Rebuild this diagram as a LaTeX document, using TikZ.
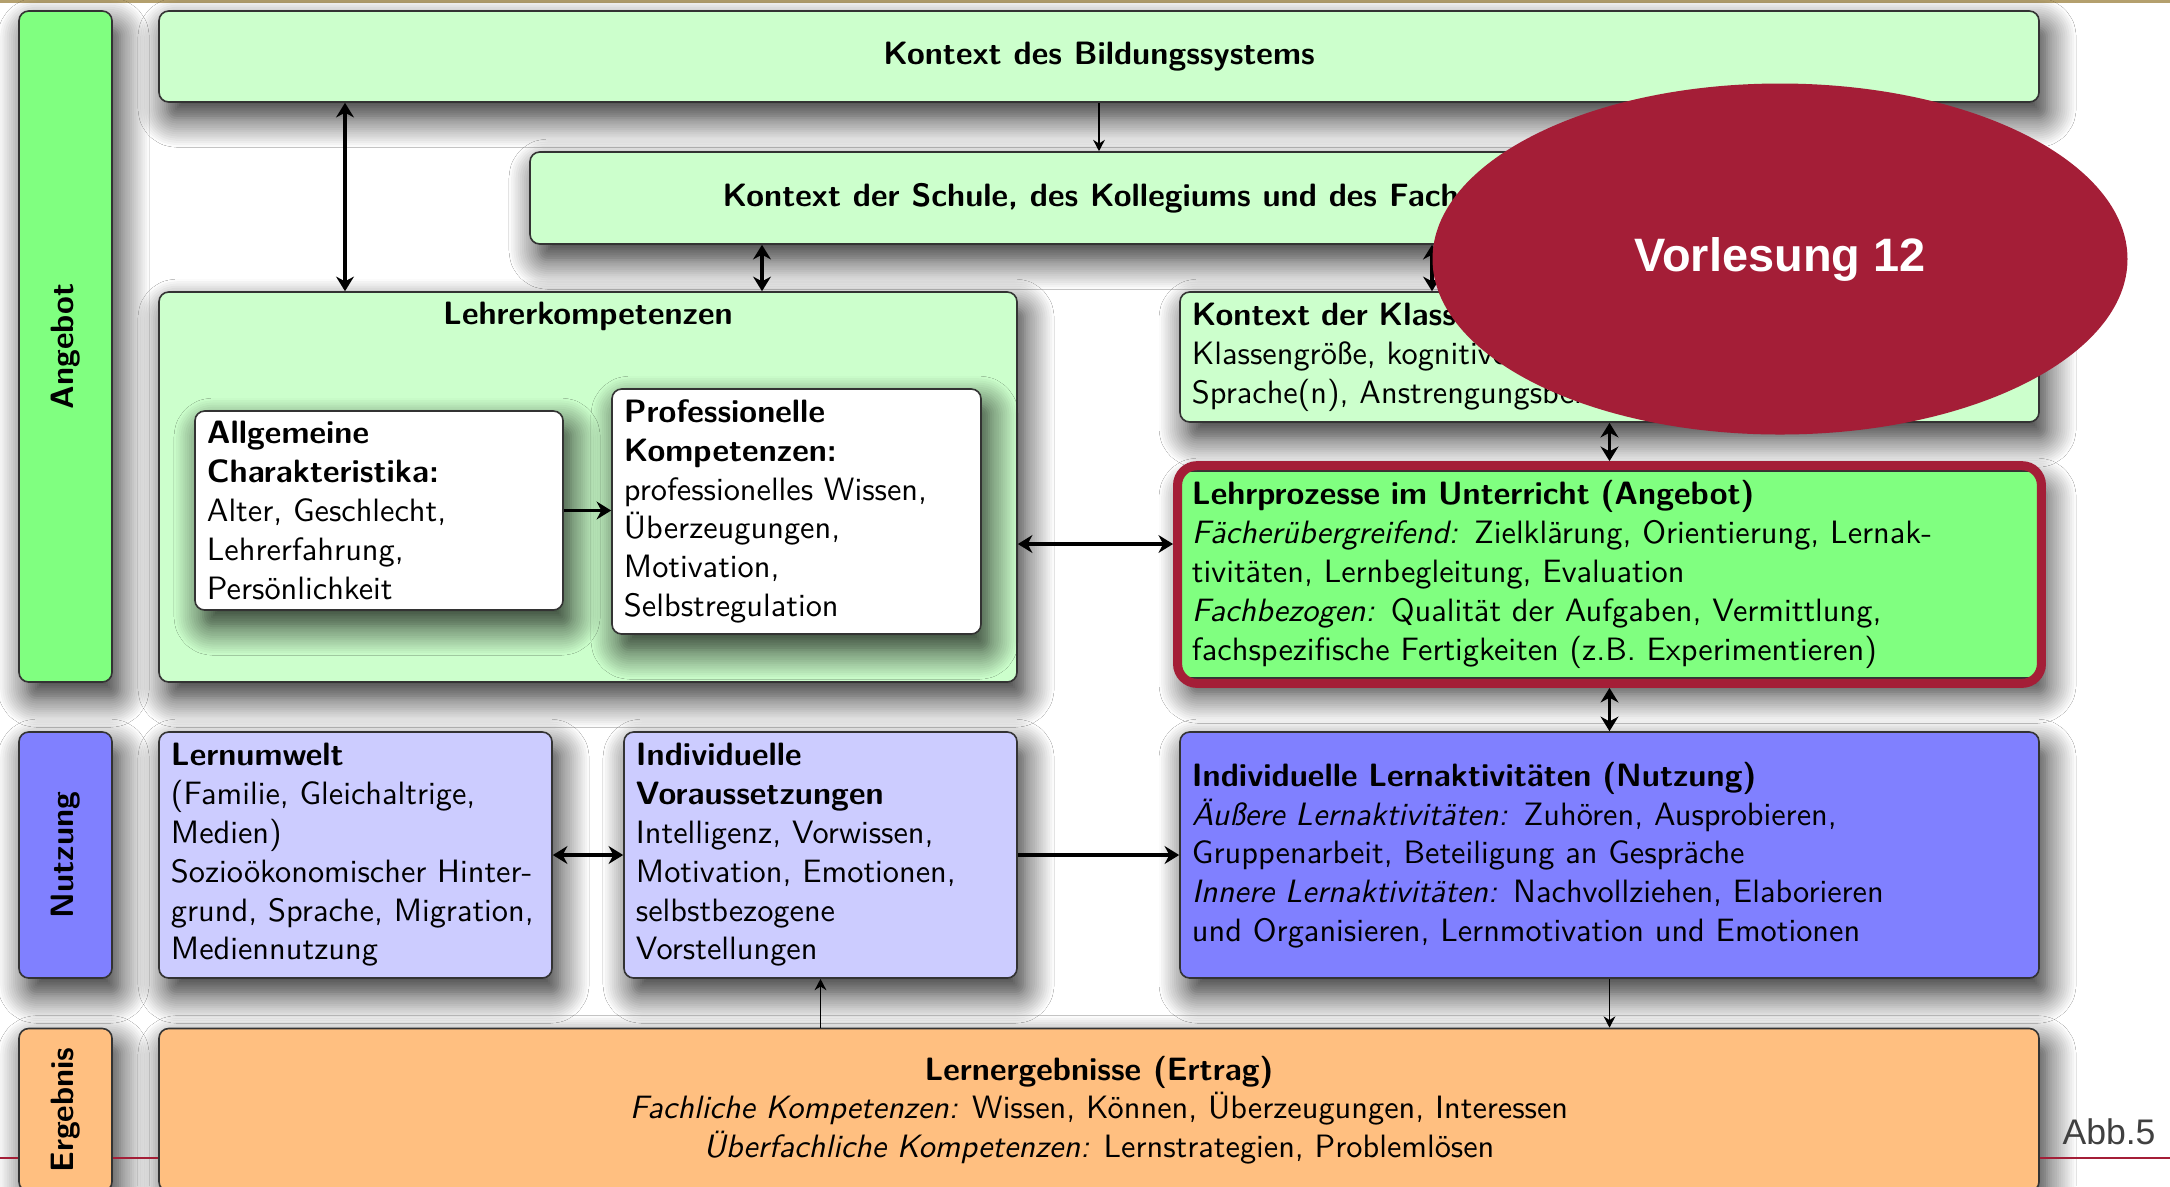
\documentclass[tikz,border=0pt]{standalone}
\usepackage{fontspec}
\setmainfont{lmsans10-regular.otf}[ItalicFont=lmsans10-oblique.otf, BoldFont=lmsans10-bold.otf, BoldItalicFont=lmsans10-boldoblique.otf]
\newfontfamily\lmsbx{lmsans10-bold.otf}
\newfontfamily\arialf{Liberation Sans}
\usepackage{graphicx}
\usetikzlibrary{arrows.meta, shapes.geometric, shadows.blur, fit}
\newdimen\pxu \pxu=0.3092pt
\definecolor{lgreen}{HTML}{CCFFCC}
\definecolor{mgreen}{HTML}{80FF80}
\definecolor{lblue}{HTML}{CCCCFF}
\definecolor{mblue}{HTML}{8080FF}
\definecolor{orng}{HTML}{FFBF80}
\definecolor{dred}{HTML}{A41E37}
\definecolor{goldl}{HTML}{B4A06E}
\tikzset{
  shd/.style={blur shadow={shadow xshift=2.5pt, shadow yshift=-5pt, shadow blur radius=9pt, shadow blur steps=14, shadow opacity=85}},
  bx/.style={draw=black!80, line width=0.5pt, rounded corners=3pt, shd, font=\fontsize{10}{12}\selectfont, inner xsep=3.7pt, inner ysep=2pt},
  sz/.style 2 args={minimum width=#1*\pxu, minimum height=#2*\pxu},
  side/.style={bx, font=\lmsbx\fontsize{10}{12}\selectfont},
  dbl/.style={line width=1pt, {Stealth[length=4.5pt,width=5.5pt]}-{Stealth[length=4.5pt,width=5.5pt]}},
  one/.style={line width=1pt, -{Stealth[length=4.5pt,width=5.5pt]}},
  thn/.style={line width=0.6pt, -{Stealth[length=3.5pt,width=3.6pt]}},
  redline/.style={dred, line width=0.7pt},
}
\begin{document}
\begin{tikzpicture}[x=0.3092pt, y=-0.3092pt]
\fill[white] (0,0) rectangle (2170,1186);
\useasboundingbox (0,0) rectangle (2170,1186);
\draw[goldl, line width=0.7pt] (0,1.5) -- (2170,1.5);

% side labels
\node[side, fill=mgreen, sz={93}{671}] (angebot) at (65.5,346.5) {\rotatebox{90}{Angebot}};
\node[side, fill=mblue, sz={93}{246}] (nutzung) at (65.5,855) {\rotatebox{90}{Nutzung}};
\node[side, fill=orng, sz={93}{163}] (ergebnis) at (65.5,1110) {\rotatebox{90}{Ergebnis}};

% boxes
\node[bx, fill=lgreen, sz={1880}{91}] (bild) at (1099,56.5) {\textbf{Kontext des Bildungssystems}};
\node[bx, fill=lgreen, sz={1135}{92}] (schule) at (1097.5,198) {\textbf{Kontext der Schule, des Kollegiums und des Fachs}};
\node[bx, fill=lgreen, sz={858}{390}] (lehrer) at (588,487) {};
\node[font=\fontsize{10}{12}\selectfont] (lehrertitle) at (588,316) {\textbf{Lehrerkompetenzen}};
\node[bx, fill=white, sz={368}{199}, text width=106.4pt, align=left] (allg) at (379,510.5)
  {\textbf{Allgemeine}\\\textbf{Charakteristika:}\\Alter, Geschlecht,\\Lehrerfahrung,\\Persönlichkeit};
\node[bx, fill=white, sz={369}{245}, text width=106.7pt, align=left] (prof) at (796.5,511.5)
  {\textbf{Professionelle}\\\textbf{Kompetenzen:}\\\mbox{professionelles Wissen,}\\Überzeugungen,\\Motivation,\\Selbstregulation};
\node[bx, fill=lgreen, sz={859}{130}, text width=258.2pt, align=left] (klasse) at (1609.5,357)
  {\textbf{Kontext der Klasse}\\Klassengröße, kognitive\\Sprache(n), Anstrengungsbereitschaft};
\node[bx, fill=mgreen, sz={859}{207}, text width=258.2pt, align=left] (lehrp) at (1609.5,574.5)
  {\textbf{Lehrprozesse im Unterricht (Angebot)}\\\mbox{\textit{Fächerübergreifend:} Zielklärung, Orientierung, Lernak-}\\tivitäten, Lernbegleitung, Evaluation\\\mbox{\textit{Fachbezogen:} Qualität der Aufgaben, Vermittlung,}\\\mbox{fachspezifische Fertigkeiten (z.B. Experimentieren)}};
\node[fit=(lehrp), inner xsep=0.5pt, inner ysep=1.4pt, draw=dred, line width=2.8pt, rounded corners=6pt] (hl) {};
\node[bx, fill=lblue, sz={393}{246}, text width=114.1pt, align=left] (lernum) at (355.5,855)
  {\textbf{Lernumwelt}\\\mbox{(Familie, Gleichaltrige,}\\Medien)\\\mbox{Sozioökonomischer Hinter-}\\\mbox{grund, Sprache, Migration,}\\Mediennutzung};
\node[bx, fill=lblue, sz={393}{246}, text width=114.1pt, align=left] (vorauss) at (820.5,855)
  {\textbf{Individuelle}\\\textbf{Voraussetzungen}\\\mbox{Intelligenz, Vorwissen,}\\\mbox{Motivation, Emotionen,}\\selbstbezogene\\Vorstellungen};
\node[bx, fill=mblue, sz={859}{246}, text width=258.2pt, align=left] (lernakt) at (1609.5,855)
  {\textbf{\mbox{Individuelle Lernaktivitäten (Nutzung)}}\\\mbox{\textit{Äußere Lernaktivitäten:} Zuhören, Ausprobieren,}\\\mbox{Gruppenarbeit, Beteiligung an Gespräche}\\\mbox{\textit{Innere Lernaktivitäten:} Nachvollziehen, Elaborieren}\\\mbox{und Organisieren, Lernmotivation und Emotionen}};
\node[bx, fill=orng, sz={1880}{163}, align=center] (ergeb) at (1099,1110)
  {\textbf{Lernergebnisse (Ertrag)}\\\textit{Fachliche Kompetenzen:} Wissen, Können, Überzeugungen, Interessen\\\textit{Überfachliche Kompetenzen:} Lernstrategien, Problemlösen};

% connectors
\draw[dbl] (345,0 |- bild.south) -- (345,0 |- lehrer.north);
\draw[thn] (bild.south) -- (bild.south |- schule.north);
\draw[dbl] (762,0 |- schule.south) -- (762,0 |- lehrer.north);
\draw[dbl] (1432,0 |- schule.south) -- (1432,0 |- klasse.north);
\draw[dbl] (klasse.south) -- (hl.north);
\draw[dbl] (0,544 -| lehrer.east) -- (0,544 -| hl.west);
\draw[one] (allg.east) -- (allg.east -| prof.west);
\draw[dbl] (hl.south) -- (lernakt.north);
\draw[dbl] (lernum.east) -- (vorauss.west);
\draw[one] (vorauss.east) -- (vorauss.east -| lernakt.west);
\draw[thn] (vorauss.south |- ergeb.north) -- (vorauss.south);
\draw[thn] (lernakt.south) -- (lernakt.south |- ergeb.north);

% bottom red rule
\draw[redline] (0,1158) -- (ergebnis.west |- 0,1158);
\draw[redline] (ergebnis.east |- 0,1158) -- (ergeb.west |- 0,1158);
\draw[redline] (ergeb.east |- 0,1158) -- (2170,1158);

% overlay
\node[ellipse, fill=dred, sz={695}{351}, inner sep=0pt, text=white, font=\arialf\bfseries\fontsize{14.5}{17}\selectfont] (vl) at (1780,259) {Vorlesung 12};
\node[font=\arialf\fontsize{11}{13}\selectfont, text=black!75] (abb) at (2109,1132) {Abb.5};
\end{tikzpicture}
\end{document}
